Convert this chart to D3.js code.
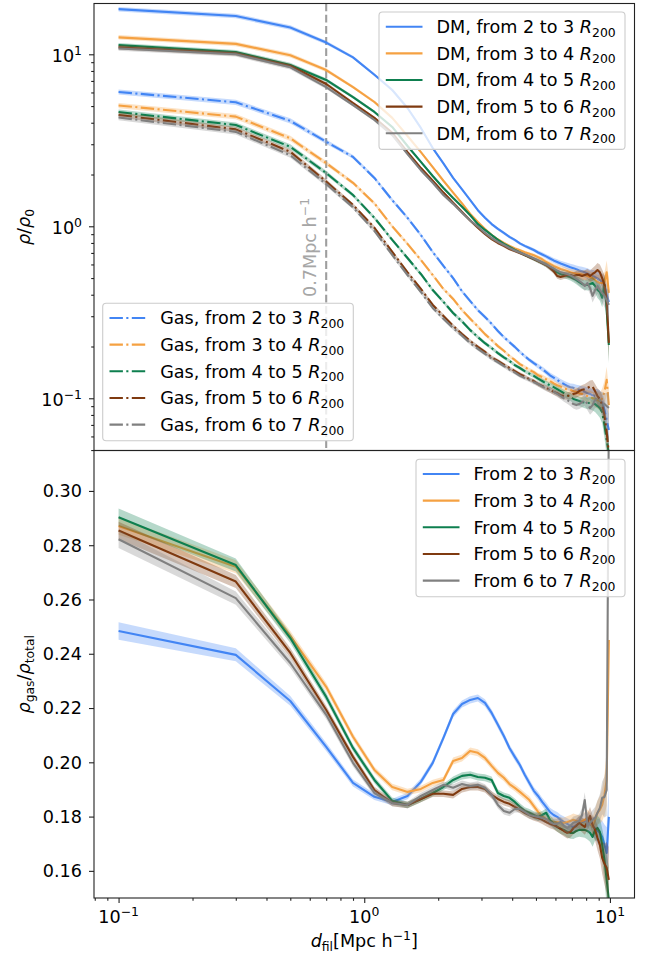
<!DOCTYPE html>
<html><head><meta charset="utf-8">
<script src="https://cdn.jsdelivr.net/npm/d3@7/dist/d3.min.js"></script>
<style>
body{margin:0;background:#fff}
svg{display:block}
text{font-family:"DejaVu Sans",sans-serif;fill:#000}
</style>
</head><body>
<svg id="c" width="647" height="958"></svg>
<script>
// ---------------- data ----------------
const dist = [0.1,0.3,0.5,0.7,0.9,1.1,1.3,1.5,1.7,1.9,2.1,2.3,2.5,2.7,2.9,3.1,3.3,3.5,3.7,3.9,4.1,4.3,4.5,4.7,4.9,5.1,5.3,5.5,5.7,5.9,6.1,6.3,6.5,6.7,6.9,7.1,7.3,7.5,7.7,7.9,8.1,8.3,8.5,8.7,8.9,9.1,9.3,9.5,9.7,9.9];
const binLabels = ["2 to 3","3 to 4","4 to 5","5 to 6","6 to 7"];
const binColors = ["#4285f4","#f5a142","#0e7f4f","#7f3a10","#808080"];

// DM density rho/rho0
const dm_2_3 = [18.3,16.7,14.3,11.7,9.6,7.6,6.2,4.87,3.73,2.85,2.32,1.91,1.64,1.42,1.24,1.12,1.03,0.965,0.915,0.867,0.833,0.795,0.769,0.748,0.728,0.704,0.686,0.668,0.65,0.633,0.62,0.608,0.598,0.588,0.578,0.571,0.562,0.554,0.547,0.54,0.532,0.521,0.514,0.507,0.497,0.487,0.474,0.456,0.399,0.363];
const dm_3_4 = [12.55,11.5,9.87,8.1,6.45,5.28,4.27,3.35,2.7,2.21,1.84,1.57,1.36,1.18,1.06,0.964,0.89,0.838,0.8,0.769,0.744,0.725,0.706,0.692,0.678,0.66,0.643,0.62,0.604,0.588,0.576,0.565,0.557,0.549,0.54,0.535,0.531,0.528,0.524,0.521,0.514,0.507,0.5,0.487,0.474,0.468,0.468,0.474,0.54,0.41];
const dm_4_5 = [11.3,10.3,8.67,7.09,5.64,4.62,3.78,2.93,2.37,1.96,1.67,1.46,1.30,1.16,1.03,0.952,0.89,0.833,0.79,0.758,0.728,0.704,0.681,0.663,0.645,0.628,0.612,0.596,0.576,0.557,0.54,0.528,0.521,0.514,0.507,0.497,0.487,0.474,0.462,0.456,0.456,0.462,0.468,0.45,0.426,0.415,0.384,0.456,0.326,0.204];
const dm_5_6 = [11.0,10.1,8.55,6.72,5.21,4.27,3.49,2.7,2.18,1.84,1.57,1.37,1.21,1.08,0.98,0.902,0.843,0.8,0.769,0.738,0.719,0.7,0.681,0.663,0.645,0.628,0.612,0.596,0.572,0.549,0.514,0.507,0.514,0.521,0.521,0.514,0.521,0.521,0.514,0.521,0.528,0.514,0.528,0.54,0.557,0.54,0.5,0.456,0.373,0.21];
const dm_6_7 = [10.8,10.0,8.4,6.45,5.07,4.15,3.39,2.63,2.12,1.79,1.52,1.35,1.20,1.08,0.996,0.915,0.855,0.811,0.779,0.748,0.723,0.704,0.686,0.668,0.65,0.633,0.616,0.6,0.584,0.569,0.553,0.54,0.535,0.528,0.518,0.507,0.494,0.481,0.468,0.45,0.468,0.437,0.394,0.426,0.45,0.426,0.41,0.394,0.373,0.349];

// Gas density rho/rho0
const gas_2_3 = [6.04,5.26,4.10,3.10,2.53,1.91,1.42,1.12,0.89,0.709,0.588,0.5,0.419,0.367,0.326,0.297,0.271,0.246,0.227,0.212,0.199,0.186,0.176,0.167,0.16,0.154,0.148,0.142,0.136,0.132,0.128,0.124,0.121,0.118,0.116,0.115,0.113,0.112,0.11,0.109,0.107,0.106,0.104,0.103,0.102,0.099,0.095,0.0854,0.0747,0.0654];
const gas_3_4 = [5.04,4.34,3.25,2.33,1.79,1.36,1.0,0.79,0.637,0.521,0.432,0.378,0.326,0.29,0.261,0.236,0.218,0.201,0.189,0.176,0.167,0.158,0.152,0.146,0.142,0.136,0.133,0.129,0.126,0.122,0.119,0.117,0.114,0.113,0.112,0.11,0.109,0.107,0.106,0.104,0.103,0.102,0.1,0.099,0.0976,0.0963,0.1,0.109,0.128,0.0913];
const gas_4_5 = [4.62,3.88,2.90,2.04,1.52,1.12,0.833,0.654,0.528,0.426,0.364,0.313,0.28,0.249,0.227,0.209,0.196,0.183,0.173,0.165,0.156,0.15,0.144,0.139,0.135,0.13,0.126,0.122,0.119,0.116,0.113,0.11,0.107,0.104,0.102,0.099,0.0976,0.0963,0.095,0.0944,0.0938,0.0938,0.0932,0.0925,0.0901,0.0877,0.083,0.0699,0.0572,0.048];
const gas_5_6 = [4.44,3.66,2.71,1.82,1.33,0.98,0.709,0.54,0.432,0.349,0.301,0.264,0.236,0.215,0.199,0.186,0.173,0.165,0.157,0.15,0.144,0.138,0.134,0.129,0.126,0.121,0.118,0.115,0.112,0.109,0.107,0.104,0.103,0.103,0.104,0.106,0.107,0.11,0.112,0.113,0.115,0.117,0.117,0.11,0.103,0.099,0.0913,0.0799,0.0636,0.048];
const gas_6_7 = [4.29,3.54,2.59,1.76,1.29,0.94,0.681,0.521,0.415,0.335,0.29,0.256,0.231,0.209,0.194,0.181,0.17,0.162,0.154,0.147,0.141,0.135,0.131,0.128,0.124,0.121,0.117,0.114,0.112,0.109,0.106,0.103,0.1,0.0976,0.095,0.0925,0.0913,0.0925,0.095,0.0976,0.0925,0.0877,0.0913,0.0976,0.1,0.0976,0.095,0.0925,0.0901,0.0877];

// Gas fraction rho_gas/rho_total
const ratio_2_3 = [0.2484,0.2396,0.2226,0.2057,0.1924,0.1873,0.1854,0.1876,0.1928,0.1998,0.2090,0.2178,0.2215,0.2230,0.2237,0.2219,0.2182,0.2138,0.2097,0.2053,0.2020,0.1990,0.1954,0.1924,0.1895,0.1876,0.1854,0.1836,0.1817,0.1806,0.1799,0.1788,0.1780,0.1773,0.1766,0.1762,0.1769,0.1777,0.1780,0.1784,0.1788,0.1773,0.1762,0.1758,0.1747,0.1740,0.1725,0.1696,0.1666,0.1799];
const ratio_3_4 = [0.2871,0.2721,0.2466,0.2278,0.2094,0.1972,0.1909,0.1891,0.1902,0.1924,0.1935,0.2005,0.2016,0.2042,0.2035,0.2016,0.1987,0.1961,0.1943,0.1920,0.1906,0.1891,0.1876,0.1861,0.1839,0.1817,0.1802,0.1791,0.1784,0.1780,0.1780,0.1777,0.1777,0.1780,0.1784,0.1788,0.1784,0.1780,0.1784,0.1788,0.1795,0.1780,0.1762,0.1788,0.1814,0.1825,0.1843,0.1880,0.1935,0.2451];
const ratio_4_5 = [0.2903,0.2727,0.2458,0.2241,0.2053,0.1935,0.1858,0.1843,0.1865,0.1887,0.1909,0.1935,0.1950,0.1954,0.1946,0.1943,0.1935,0.1887,0.1876,0.1869,0.1854,0.1836,0.1821,0.1814,0.1806,0.1799,0.1806,0.1814,0.1788,0.1773,0.1762,0.1755,0.1751,0.1744,0.1740,0.1740,0.1747,0.1751,0.1751,0.1751,0.1747,0.1740,0.1725,0.1751,0.1758,0.1744,0.1696,0.1640,0.1567,0.1493];
const ratio_5_6 = [0.2854,0.2666,0.2403,0.2193,0.2020,0.1898,0.1850,0.1843,0.1865,0.1884,0.1884,0.1880,0.1902,0.1909,0.1909,0.1902,0.1880,0.1865,0.1854,0.1847,0.1836,0.1825,0.1814,0.1806,0.1799,0.1795,0.1788,0.1780,0.1773,0.1769,0.1762,0.1755,0.1747,0.1740,0.1744,0.1758,0.1766,0.1777,0.1769,0.1762,0.1780,0.1802,0.1769,0.1751,0.1721,0.1696,0.1648,0.1626,0.1611,0.1567];
const ratio_6_7 = [0.2822,0.2605,0.2366,0.2175,0.1998,0.1887,0.1850,0.1843,0.1876,0.1898,0.1917,0.1906,0.1920,0.1913,0.1917,0.1906,0.1880,0.1843,0.1821,0.1814,0.1828,0.1828,0.1817,0.1806,0.1802,0.1799,0.1795,0.1791,0.1780,0.1773,0.1773,0.1780,0.1766,0.1758,0.1766,0.1777,0.1780,0.1784,0.1806,0.1861,0.1766,0.1777,0.1788,0.1795,0.1814,0.1832,0.1869,0.1872,0.1898,0.33];

// uncertainties (relative for densities, absolute for the fraction)
const errDM = [0.03,0.03,0.03,0.025,0.02,0.02,0.02,0.02,0.02,0.02,0.02,0.02,0.02,0.02,0.02,0.02,0.02,0.02,0.02,0.02,0.02,0.02,0.02,0.022,0.024,0.026,0.028,0.03,0.032,0.034,0.036,0.038,0.04,0.043,0.046,0.05,0.054,0.058,0.062,0.067,0.072,0.078,0.085,0.092,0.1,0.11,0.12,0.14,0.17,0.22];
const errGas = [0.035,0.035,0.035,0.03,0.025,0.025,0.025,0.025,0.025,0.025,0.025,0.025,0.025,0.025,0.025,0.025,0.025,0.025,0.025,0.025,0.025,0.025,0.025,0.027,0.029,0.031,0.033,0.035,0.037,0.039,0.041,0.043,0.046,0.049,0.052,0.056,0.06,0.064,0.068,0.073,0.078,0.084,0.09,0.1,0.11,0.12,0.14,0.16,0.19,0.24];
const errRatio = [0.0032,0.0024,0.0018,0.0015,0.0013,0.0012,0.0012,0.0012,0.0012,0.0012,0.0012,0.0013,0.0013,0.0013,0.0013,0.0013,0.0013,0.0013,0.0013,0.0013,0.0013,0.0013,0.0013,0.0014,0.0014,0.0015,0.0015,0.0016,0.0016,0.0017,0.0018,0.0019,0.0020,0.0021,0.0022,0.0023,0.0024,0.0025,0.0027,0.0029,0.0031,0.0033,0.0036,0.0040,0.0045,0.0050,0.0060,0.0075,0.0095,0.0120];

const topMajor = [0.1,1,10];
const topMinor = [0.05,0.06,0.07,0.08,0.09,0.2,0.3,0.4,0.5,0.6,0.7,0.8,0.9,2,3,4,5,6,7,8,9];
const botYTicks = [0.16,0.18,0.20,0.22,0.24,0.26,0.28,0.30];
const xMajor = [0.1,1,10];
const xMinor = [0.08,0.09,0.2,0.3,0.4,0.5,0.6,0.7,0.8,0.9,2,3,4,5,6,7,8,9];
const markerDist = 0.7;

const dmSeries = [dm_2_3,dm_3_4,dm_4_5,dm_5_6,dm_6_7];
const gasSeries = [gas_2_3,gas_3_4,gas_4_5,gas_5_6,gas_6_7];
const ratioSeries = [ratio_2_3,ratio_3_4,ratio_4_5,ratio_5_6,ratio_6_7];

// ---------------- layout ----------------
const svg = d3.select("#c");
const L = 94, R = 634.5, T1 = 3.5, B1 = 450.5, T2 = 450.5, B2 = 898;
const FS = 17.6, SFS = 12.4;
const x = d3.scaleLog().domain([Math.pow(10,-1.1), Math.pow(10,1.1)]).range([L,R]);
const yTop = d3.scaleLog().domain([0.0497, 19.74]).range([B1,T1]);
const yBot = d3.scaleLinear().domain([0.1500, 0.3149]).range([B2,T2]);

const defs = svg.append("defs");
defs.append("clipPath").attr("id","clipTop").append("rect").attr("x",L).attr("y",T1).attr("width",R-L).attr("height",B1-T1);
defs.append("clipPath").attr("id","clipBot").append("rect").attr("x",L).attr("y",T2).attr("width",R-L).attr("height",B2-T2);

const LW = 2.1;
const DASHDOT = "13.4,3.4,2.1,3.4";

// top panel
const gTop = svg.append("g").attr("clip-path","url(#clipTop)");
gTop.append("line").attr("x1",x(markerDist)).attr("x2",x(markerDist)).attr("y1",T1).attr("y2",B1)
  .attr("stroke","#9e9e9e").attr("stroke-width",LW).attr("stroke-dasharray","7.8,3.4");

function drawDensity(g, series, err, dashed){
  series.forEach((s,k)=>{
    const area = d3.area().x((d,i)=>x(dist[i])).y0((d,i)=>yTop(d*(1-err[i]))).y1((d,i)=>yTop(d*(1+err[i])));
    g.append("path").datum(s).attr("d",area).attr("fill",binColors[k]).attr("fill-opacity",0.3).attr("stroke","none");
    const line = d3.line().x((d,i)=>x(dist[i])).y(d=>yTop(d));
    const p = g.append("path").datum(s).attr("d",line).attr("fill","none").attr("stroke",binColors[k])
      .attr("stroke-width",LW).attr("stroke-linejoin","round");
    if(dashed) p.attr("stroke-dasharray",DASHDOT);
  });
}
drawDensity(gTop, dmSeries, errDM, false);
drawDensity(gTop, gasSeries, errGas, true);

// label of the vertical line
const vt = svg.append("text").attr("transform",`translate(${x(markerDist)-10},297) rotate(-90)`)
  .attr("font-size",FS).style("fill","#a6a6a6");
vt.append("tspan").text("0.7Mpc h");
vt.append("tspan").attr("dy",-7.5).attr("font-size",SFS).text("\u22121");

// bottom panel
const gBot = svg.append("g").attr("clip-path","url(#clipBot)");
ratioSeries.forEach((s,k)=>{
  const area = d3.area().x((d,i)=>x(dist[i])).y0((d,i)=>yBot(d-errRatio[i])).y1((d,i)=>yBot(d+errRatio[i]));
  gBot.append("path").datum(s).attr("d",area).attr("fill",binColors[k]).attr("fill-opacity",0.3);
  const line = d3.line().x((d,i)=>x(dist[i])).y(d=>yBot(d));
  gBot.append("path").datum(s).attr("d",line).attr("fill","none").attr("stroke",binColors[k])
    .attr("stroke-width",LW).attr("stroke-linejoin","round");
});

// ---------------- axes ----------------
const axCol = "#222";
function tickLines(g){ g.selectAll("path").remove(); g.selectAll("line").attr("stroke",axCol).attr("stroke-width",1.1); g.selectAll("text").remove(); }
svg.append("g").attr("transform",`translate(${L},0)`).call(d3.axisLeft(yTop).tickValues(topMajor).tickSize(5).tickFormat("")).call(tickLines);
svg.append("g").attr("transform",`translate(${L},0)`).call(d3.axisLeft(yTop).tickValues(topMinor).tickSize(2.8).tickFormat("")).call(tickLines);
svg.append("g").attr("transform",`translate(${L},0)`).call(d3.axisLeft(yBot).tickValues(botYTicks).tickSize(5).tickFormat("")).call(tickLines);
svg.append("g").attr("transform",`translate(0,${B2})`).call(d3.axisBottom(x).tickValues(xMajor).tickSize(5).tickFormat("")).call(tickLines);
svg.append("g").attr("transform",`translate(0,${B2})`).call(d3.axisBottom(x).tickValues(xMinor).tickSize(2.8).tickFormat("")).call(tickLines);

function expStr(v){ const e = Math.round(Math.log10(v)); return e<0 ? "\u2212"+(-e) : String(e); }
function powLabel(t, v){
  t.append("tspan").text("10");
  t.append("tspan").attr("dy",-7.5).attr("font-size",SFS).text(expStr(v));
}
topMajor.forEach(v=>{
  const t = svg.append("text").attr("x",82).attr("y",yTop(v)+8).attr("text-anchor","end").attr("font-size",FS);
  powLabel(t,v);
});
botYTicks.forEach(v=>{
  svg.append("text").attr("x",82).attr("y",yBot(v)+6.4).attr("text-anchor","end").attr("font-size",FS).text(d3.format(".2f")(v));
});
xMajor.forEach(v=>{
  const t = svg.append("text").attr("x",x(v)).attr("y",923).attr("text-anchor","middle").attr("font-size",FS);
  powLabel(t,v);
});

// frames
[[T1,B1],[T2,B2]].forEach(([t,b])=>{
  svg.append("rect").attr("x",L).attr("y",t).attr("width",R-L).attr("height",b-t)
    .attr("fill","none").attr("stroke",axCol).attr("stroke-width",1.1);
});

// axis labels
const xl = svg.append("text").attr("x",(L+R)/2).attr("y",947).attr("text-anchor","middle").attr("font-size",FS);
xl.append("tspan").attr("font-style","italic").text("d");
xl.append("tspan").attr("dy",3.5).attr("font-size",SFS).text("fil");
xl.append("tspan").attr("dy",-3.5).text("[Mpc h");
xl.append("tspan").attr("dy",-7.5).attr("font-size",SFS).text("\u22121");
xl.append("tspan").attr("dy",7.5).text("]");

const yl1 = svg.append("text").attr("transform",`translate(30,${(T1+B1)/2}) rotate(-90)`).attr("text-anchor","middle").attr("font-size",FS);
yl1.append("tspan").attr("font-style","italic").text("\u03C1");
yl1.append("tspan").text("/");
yl1.append("tspan").attr("font-style","italic").text("\u03C1");
yl1.append("tspan").attr("dy",3.5).attr("font-size",SFS).text("0");

const yl2 = svg.append("text").attr("transform",`translate(30,${(T2+B2)/2}) rotate(-90)`).attr("text-anchor","middle").attr("font-size",FS);
yl2.append("tspan").attr("font-style","italic").text("\u03C1");
yl2.append("tspan").attr("dy",3.5).attr("font-size",SFS).text("gas");
yl2.append("tspan").attr("dy",-3.5).text("/");
yl2.append("tspan").attr("font-style","italic").text("\u03C1");
yl2.append("tspan").attr("dy",3.5).attr("font-size",SFS).text("total");

// ---------------- legends ----------------
function legend(bx, by, bw, prefix, dashed){
  const g = svg.append("g");
  g.append("rect").attr("x",bx).attr("y",by).attr("width",bw).attr("height",137.4).attr("rx",3.5)
    .attr("fill","#fff").attr("fill-opacity",0.8).attr("stroke","#cccccc").attr("stroke-width",1.1);
  binLabels.forEach((lab,k)=>{
    const cy = by + 14.7 + k*26.65;
    const ln = g.append("line").attr("x1",bx+6.8).attr("x2",bx+43.5).attr("y1",cy).attr("y2",cy)
      .attr("stroke",binColors[k]).attr("stroke-width",LW);
    if(dashed) ln.attr("stroke-dasharray",DASHDOT);
    const t = g.append("text").attr("x",bx+57.5).attr("y",cy+6.4).attr("font-size",FS);
    t.append("tspan").text(prefix+lab+" ");
    t.append("tspan").attr("font-style","italic").text("R");
    t.append("tspan").attr("dy",3.5).attr("font-size",SFS).text("200");
  });
}
legend(379, 12, 246, "DM, from ", false);
legend(102.7, 303.3, 250.6, "Gas, from ", true);
legend(416, 459.3, 209, "From ", false);
</script>
</body></html>
